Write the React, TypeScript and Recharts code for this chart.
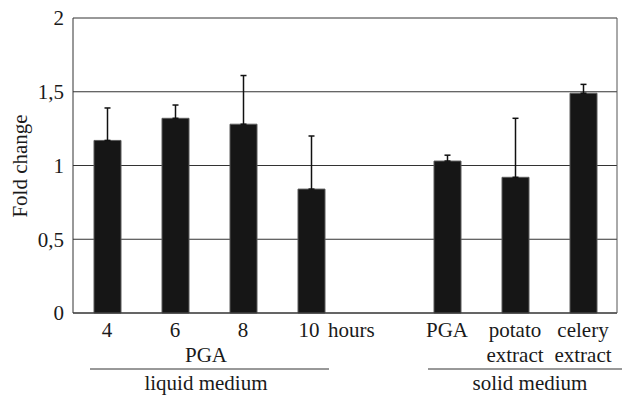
import { BarChart, Bar, XAxis, YAxis, CartesianGrid, ErrorBar, Label } from 'recharts';

// categories along the x axis (one empty slot separates the two media)
const categories = ['4', '6', '8', '10', '', 'PGA', 'potato', 'celery'];
const tickLines = [['4'], ['6'], ['8'], ['10'], [], ['PGA'], ['potato', 'extract'], ['celery', 'extract']];
const foldChange = [1.17, 1.32, 1.28, 0.84, null, 1.03, 0.92, 1.49];
const upperError = [0.22, 0.09, 0.33, 0.36, null, 0.04, 0.4, 0.06];
const yTicks = [0, 0.5, 1, 1.5, 2];

const data = categories.map((c, i) => ({
  name: c,
  value: foldChange[i],
  err: upperError[i] === null ? null : [0, upperError[i]],
}));

const FONT = '"Liberation Serif", "DejaVu Serif", serif';
const INK = '#1a1a1a';
const FS = 21;

const Tick = (props: any) => {
  const { x, y, payload } = props;
  const idx = categories.indexOf(payload.value);
  const lines = tickLines[idx] || [];
  return (
    <g fontFamily={FONT} fontSize={FS} fill={INK}>
      {lines.map((t, k) => (
        <text key={k} x={idx === 3 ? x - 2 : x} y={y + 23.5 + k * 25} textAnchor="middle" fill={INK}>
          {t}
        </text>
      ))}
      {idx === 3 && (
        <text x={x + 17} y={y + 23.5} textAnchor="start" fill={INK}>hours</text>
      )}
      {idx === 1 && (
        <g>
          <text x={x + 31} y={y + 48.5} textAnchor="middle" fill={INK}>PGA</text>
          <line x1={x - 85} x2={x + 154} y1={y + 56} y2={y + 56} stroke="#333" strokeWidth={1} />
          <text x={x + 31} y={y + 77} textAnchor="middle" fill={INK}>liquid medium</text>
        </g>
      )}
      {idx === 6 && (
        <g>
          <line x1={x - 87} x2={x + 110} y1={y + 56} y2={y + 56} stroke="#333" strokeWidth={1} />
          <text x={x + 15} y={y + 77} textAnchor="middle" fill={INK}>solid medium</text>
        </g>
      )}
    </g>
  );
};

const App = () => {
  return (
    <div style={{ position: 'absolute', left: 0, top: 0, background: '#fff' }}>
      <BarChart
        width={622}
        height={395}
        data={data}
        margin={{ top: 18, right: 0, bottom: 0, left: 0 }}
        barSize={27}
      >
        <CartesianGrid vertical={false} stroke="#333" strokeWidth={1} />
        <XAxis
          dataKey="name"
          height={82}
          tick={<Tick />}
          tickLine={false}
          tickSize={0}
          tickMargin={0}
          interval={0}
          axisLine={{ stroke: '#333' }}
        />
        <YAxis
          domain={[0, 2]}
          ticks={yTicks}
          width={73}
          tickLine={false}
          tickSize={6}
          tickMargin={3}
          axisLine={{ stroke: '#333' }}
          tickFormatter={(v: number) => String(v).replace('.', ',')}
          tick={{ fontFamily: FONT, fontSize: FS, fill: INK }}
          label={
            <Label
              content={() => (
                <text
                  transform="translate(27,166) rotate(-90)"
                  textAnchor="middle"
                  fontFamily={FONT}
                  fontSize={FS}
                  fill={INK}
                >
                  Fold change
                </text>
              )}
            />
          }
        />
        <YAxis
          yAxisId="r"
          orientation="right"
          domain={[0, 2]}
          width={5}
          tick={false}
          tickLine={false}
          axisLine={{ stroke: '#555' }}
        />
        <Bar dataKey="value" fill="#161616" stroke="#5a5a5a" strokeWidth={1} isAnimationActive={false}>
          <ErrorBar dataKey="err" width={3} stroke="#111" strokeWidth={1.5} direction="y" />
        </Bar>
      </BarChart>
    </div>
  );
};

export default App;
